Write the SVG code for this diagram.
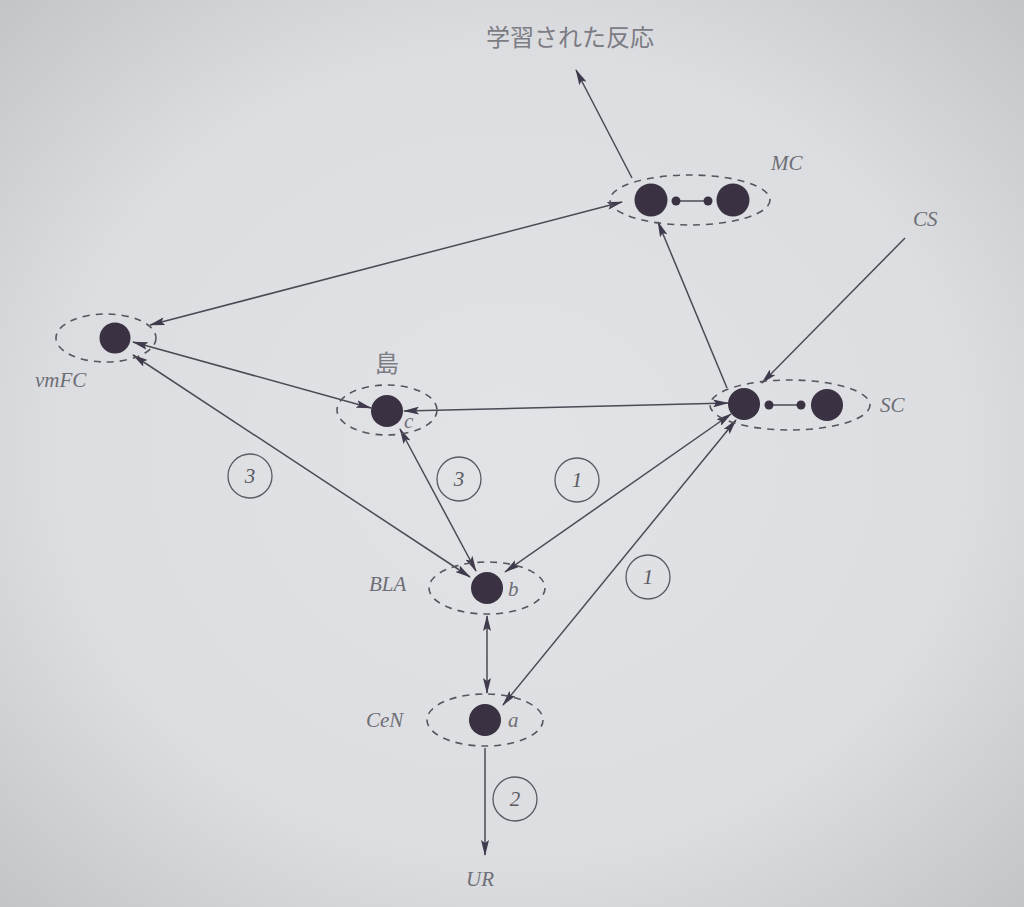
<svg xmlns="http://www.w3.org/2000/svg" width="1024" height="907" viewBox="0 0 1024 907">
<defs>
<radialGradient id="bg" cx="50%" cy="50%" r="75%">
<stop offset="0" stop-color="#e2e3e6"/>
<stop offset="0.6" stop-color="#dcdde0"/>
<stop offset="1" stop-color="#bfc0c4"/>
</radialGradient>
<marker id="ah" viewBox="0 0 16 8" refX="15" refY="4" markerWidth="16" markerHeight="8" markerUnits="userSpaceOnUse" orient="auto-start-reverse">
<path d="M0,0 L16,4 L0,8 L3,4 Z" fill="#3f3a4c"/>
</marker>
</defs>
<style>
.node{fill:#3a3242}
.dot{fill:#3a3242}
.ring{fill:none;stroke:#55555c;stroke-width:1.6;stroke-dasharray:7 6}
.ln{stroke:#4a4a55;stroke-width:1.5;fill:none}
.lbl{font-family:"Liberation Serif",serif;font-style:italic;font-size:21px;fill:#6e6e76}
.num{font-family:"Liberation Serif",serif;font-style:italic;font-size:21px;fill:#5a5a62;text-anchor:middle}
.numc{fill:none;stroke:#5a5a62;stroke-width:1.3}
.jp{font-family:"Noto Sans CJK JP",sans-serif;font-size:24px;fill:#7c7c84}
</style>
<rect width="1024" height="907" fill="url(#bg)"/>

<g id="connectors">
<line class="ln" x1="632" y1="178" x2="576" y2="70" marker-end="url(#ah)"/>
<line class="ln" x1="150" y1="325" x2="622" y2="202" marker-start="url(#ah)" marker-end="url(#ah)"/>
<line class="ln" x1="133" y1="342" x2="371" y2="408" marker-start="url(#ah)" marker-end="url(#ah)"/>
<line class="ln" x1="133" y1="355" x2="470" y2="577" marker-start="url(#ah)" marker-end="url(#ah)"/>
<line class="ln" x1="404" y1="411" x2="728" y2="403" marker-start="url(#ah)" marker-end="url(#ah)"/>
<line class="ln" x1="400" y1="429" x2="476" y2="571" marker-start="url(#ah)" marker-end="url(#ah)"/>
<line class="ln" x1="731" y1="414" x2="505" y2="572" marker-start="url(#ah)" marker-end="url(#ah)"/>
<line class="ln" x1="736" y1="420" x2="503" y2="705" marker-start="url(#ah)" marker-end="url(#ah)"/>
<line class="ln" x1="727" y1="388" x2="658" y2="222" marker-end="url(#ah)"/>
<line class="ln" x1="905" y1="238" x2="762" y2="383" marker-end="url(#ah)"/>
<line class="ln" x1="487" y1="616" x2="487" y2="693" marker-start="url(#ah)" marker-end="url(#ah)"/>
<line class="ln" x1="485" y1="748" x2="485" y2="855" marker-end="url(#ah)"/>
</g>

<g id="response"><text class="jp" x="570" y="46" text-anchor="middle">学習された反応</text></g>

<g id="MC">
<ellipse class="ring" cx="690" cy="200" rx="80" ry="25"/>
<circle class="node" cx="651" cy="200" r="16.5"/>
<circle class="node" cx="733" cy="200" r="16.5"/>
<line class="ln" x1="676" y1="201" x2="708" y2="201"/>
<circle class="dot" cx="676" cy="201" r="4.5"/>
<circle class="dot" cx="708" cy="201" r="4.5"/>
<text class="lbl" x="771" y="170">MC</text>
</g>

<g id="SC">
<ellipse class="ring" cx="790" cy="405" rx="80" ry="25"/>
<circle class="node" cx="744" cy="404" r="16"/>
<circle class="node" cx="827" cy="405" r="16"/>
<line class="ln" x1="769" y1="405" x2="801" y2="405"/>
<circle class="dot" cx="769" cy="405" r="4.5"/>
<circle class="dot" cx="801" cy="405" r="4.5"/>
<text class="lbl" x="880" y="412">SC</text>
</g>

<g id="CS"><text class="lbl" x="913" y="226">CS</text></g>

<g id="vmFC">
<ellipse class="ring" cx="106" cy="338" rx="50" ry="24"/>
<circle class="node" cx="115" cy="338" r="15.5"/>
<text class="lbl" x="35" y="387">vmFC</text>
</g>

<g id="island">
<ellipse class="ring" cx="387" cy="410" rx="50" ry="25"/>
<circle class="node" cx="387" cy="411" r="16"/>
<text class="jp" x="387" y="372" text-anchor="middle" font-size="22">島</text>
<text class="lbl" x="404" y="428" font-size="19">c</text>
</g>

<g id="BLA">
<ellipse class="ring" cx="487" cy="588" rx="58" ry="26"/>
<circle class="node" cx="487" cy="588" r="16"/>
<text class="lbl" x="508" y="596" font-size="19">b</text>
<text class="lbl" x="369" y="591">BLA</text>
</g>

<g id="CeN">
<ellipse class="ring" cx="485" cy="720" rx="58" ry="26"/>
<circle class="node" cx="485" cy="720" r="16"/>
<text class="lbl" x="508" y="727" font-size="19">a</text>
<text class="lbl" x="366" y="727">CeN</text>
</g>

<g id="UR"><text class="lbl" x="466" y="886">UR</text></g>

<g id="steps">
<circle class="numc" cx="250" cy="476" r="22"/><text class="num" x="250" y="483">3</text>
<circle class="numc" cx="459" cy="479" r="22"/><text class="num" x="459" y="486">3</text>
<circle class="numc" cx="577" cy="480" r="22"/><text class="num" x="577" y="487">1</text>
<circle class="numc" cx="648" cy="577" r="22"/><text class="num" x="648" y="584">1</text>
<circle class="numc" cx="515" cy="799" r="22"/><text class="num" x="515" y="806">2</text>
</g>
</svg>
